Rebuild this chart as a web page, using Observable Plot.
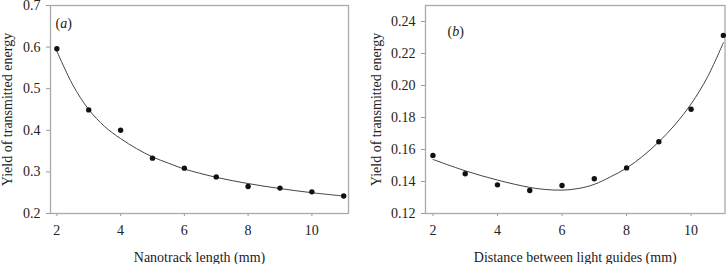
<!DOCTYPE html>
<html>
<head>
<meta charset="utf-8">
<script src="https://cdn.jsdelivr.net/npm/d3@7"></script>
<script src="https://cdn.jsdelivr.net/npm/@observablehq/plot@0.6"></script>
<style>
  html, body { margin: 0; padding: 0; background: #fff; }
  #wrap { display: flex; width: 726px; height: 264px; }
  #wrap svg { font-family: "Liberation Serif", "Times New Roman", serif !important; font-size: 14px !important; overflow: visible; }
  #wrap svg text { fill: #222; }
</style>
</head>
<body>
<div id="wrap"></div>
<script>
// Panel (a): Nanotrack length
const lengthA = [2, 3, 4, 5, 6, 7, 8, 9, 10, 11];
const yieldA = [0.596, 0.449, 0.400, 0.333, 0.309, 0.288, 0.265, 0.261, 0.252, 0.242];
const fitXA = [2, 2.5, 3, 3.5, 4, 4.5, 5, 5.5, 6, 7, 8, 9, 10, 11];
const fitYA = [0.590, 0.509, 0.450, 0.409, 0.380, 0.356, 0.336, 0.321, 0.307, 0.287, 0.272, 0.260, 0.250, 0.242];
const yTicksA = [0.2, 0.3, 0.4, 0.5, 0.6, 0.7];

// Panel (b): Distance between light guides
const distB = [2, 3, 4, 5, 6, 7, 8, 9, 10, 11];
const yieldB = [0.1563, 0.1448, 0.1379, 0.1344, 0.1375, 0.1417, 0.1485, 0.1648, 0.1852, 0.2313];
const fitXB = [2, 3, 4, 5, 5.5, 6, 6.5, 7, 7.5, 8, 8.5, 9, 9.5, 10, 10.5, 11];
const fitYB = [0.1538, 0.1467, 0.1409, 0.1363, 0.1350, 0.1346, 0.1356, 0.1382, 0.1429, 0.1484, 0.1558, 0.1648, 0.1755, 0.1885, 0.2050, 0.2268];
const yTicksB = [0.12, 0.14, 0.16, 0.18, 0.20, 0.22, 0.24];

const xTicks = [2, 4, 6, 8, 10];

function panel(opts) {
  const pts = opts.xs.map((x, i) => ({x, y: opts.ys[i]}));
  const fit = opts.fx.map((x, i) => ({x, y: opts.fy[i]}));
  const svg = Plot.plot({
    width: 363,
    height: 264,
    marginLeft: opts.ml,
    marginRight: opts.mr,
    marginTop: 5,
    marginBottom: 51,
    style: {fontFamily: "Liberation Serif", fontSize: "14px", background: "#fff", overflow: "visible"},
    x: {domain: opts.xDomain, ticks: xTicks, tickSize: 3, tickPadding: 9, label: opts.xLabel, labelAnchor: "center", labelArrow: "none"},
    y: {domain: opts.yDomain, ticks: opts.yTicks, tickFormat: opts.fmt, tickSize: 4, tickPadding: 6, label: opts.yLabel, labelAnchor: "center", labelArrow: "none", labelOffset: opts.lo},
    marks: [
      Plot.frame({stroke: "#aaa", strokeWidth: 1.3}),
      Plot.line(fit, {x: "x", y: "y", curve: "catmull-rom", stroke: "#444", strokeWidth: 1}),
      Plot.dot(pts, {x: "x", y: "y", r: 2.7, fill: "#111", stroke: "none"}),
      Plot.text([opts.tag], {frameAnchor: "top-left", dx: opts.tdx, dy: opts.tdy, textAnchor: "start", fontSize: 14})
    ]
  });
  svg.querySelectorAll("text").forEach(t => {
    if (t.textContent === opts.tag) {
      const letter = opts.tag.slice(1, -1);
      t.innerHTML = '(<tspan font-style="italic">' + letter + '</tspan>)';
    }
  });
  svg.querySelectorAll("g[aria-label='x-axis tick'], g[aria-label='y-axis tick']").forEach(g => g.setAttribute("stroke", "#999"));
  return svg;
}

const wrap = document.getElementById("wrap");
wrap.appendChild(panel({
  xs: lengthA, ys: yieldA, fx: fitXA, fy: fitYA,
  ml: 50, mr: 15, xDomain: [1.8, 11.15], yDomain: [0.2, 0.7], yTicks: yTicksA,
  fmt: d3.format(".1f"), xLabel: "Nanotrack length (mm)", yLabel: "Yield of transmitted energy",
  lo: 48, tag: "(a)", tdx: 5, tdy: 13
}));
wrap.appendChild(panel({
  xs: distB, ys: yieldB, fx: fitXB, fy: fitYB,
  ml: 62, mr: 1.5, xDomain: [1.77, 11.05], yDomain: [0.12, 0.25], yTicks: yTicksB,
  fmt: d3.format(".2f"), xLabel: "Distance between light guides (mm)", yLabel: "Yield of transmitted energy",
  lo: 54, tag: "(b)", tdx: 22, tdy: 21
}));
</script>
</body>
</html>
